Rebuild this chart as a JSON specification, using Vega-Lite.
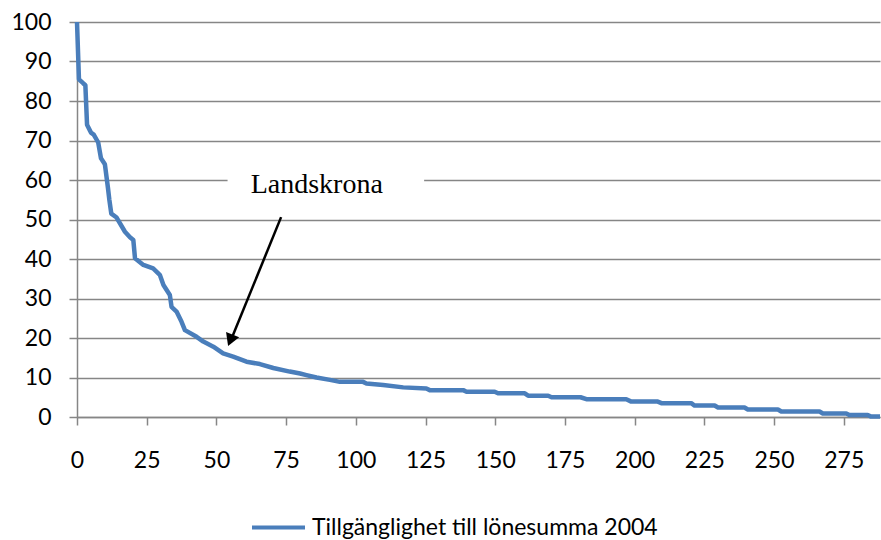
{
  "$schema": "https://vega.github.io/schema/vega-lite/v6.json",
  "autosize": "none",
  "width": 803,
  "height": 395,
  "padding": {"left": 77, "top": 22, "right": 1, "bottom": 123},
  "background": "white",
  "config": {
    "view": {"stroke": null},
    "axis": {
      "labelFont": "Lato",
      "labelFontSize": 23,
      "labelColor": "#000000",
      "labelOverlap": false,
      "domainColor": "#868686",
      "domainWidth": 1.5,
      "tickColor": "#868686",
      "tickWidth": 1.5,
      "tickSize": 8,
      "gridColor": "#868686",
      "gridWidth": 1.5,
      "gridOpacity": 1,
      "title": null
    }
  },
  "datasets": {
    "curve": [
      {"n": 0, "v": 100, "serie": "Tillgänglighet till lönesumma 2004"},
      {"n": 0.7, "v": 85.5, "serie": "Tillgänglighet till lönesumma 2004"},
      {"n": 2.2, "v": 84.5, "serie": "Tillgänglighet till lönesumma 2004"},
      {"n": 3, "v": 84, "serie": "Tillgänglighet till lönesumma 2004"},
      {"n": 3.6, "v": 74, "serie": "Tillgänglighet till lönesumma 2004"},
      {"n": 5, "v": 72, "serie": "Tillgänglighet till lönesumma 2004"},
      {"n": 6, "v": 71.5, "serie": "Tillgänglighet till lönesumma 2004"},
      {"n": 7.2, "v": 70, "serie": "Tillgänglighet till lönesumma 2004"},
      {"n": 7.6, "v": 69.5, "serie": "Tillgänglighet till lönesumma 2004"},
      {"n": 8.6, "v": 65.5, "serie": "Tillgänglighet till lönesumma 2004"},
      {"n": 10, "v": 64, "serie": "Tillgänglighet till lönesumma 2004"},
      {"n": 11.1, "v": 58, "serie": "Tillgänglighet till lönesumma 2004"},
      {"n": 11.6, "v": 55, "serie": "Tillgänglighet till lönesumma 2004"},
      {"n": 12.3, "v": 51.5, "serie": "Tillgänglighet till lönesumma 2004"},
      {"n": 14.2, "v": 50.5, "serie": "Tillgänglighet till lönesumma 2004"},
      {"n": 17.2, "v": 46.9, "serie": "Tillgänglighet till lönesumma 2004"},
      {"n": 19, "v": 45.5, "serie": "Tillgänglighet till lönesumma 2004"},
      {"n": 20.2, "v": 44.8, "serie": "Tillgänglighet till lönesumma 2004"},
      {"n": 20.8, "v": 40.2, "serie": "Tillgänglighet till lönesumma 2004"},
      {"n": 23.8, "v": 38.5, "serie": "Tillgänglighet till lönesumma 2004"},
      {"n": 27.3, "v": 37.6, "serie": "Tillgänglighet till lönesumma 2004"},
      {"n": 29.7, "v": 36, "serie": "Tillgänglighet till lönesumma 2004"},
      {"n": 31, "v": 33.4, "serie": "Tillgänglighet till lönesumma 2004"},
      {"n": 33.3, "v": 30.9, "serie": "Tillgänglighet till lönesumma 2004"},
      {"n": 33.9, "v": 27.9, "serie": "Tillgänglighet till lönesumma 2004"},
      {"n": 35.7, "v": 26.7, "serie": "Tillgänglighet till lönesumma 2004"},
      {"n": 37.5, "v": 24.1, "serie": "Tillgänglighet till lönesumma 2004"},
      {"n": 38.7, "v": 22, "serie": "Tillgänglighet till lönesumma 2004"},
      {"n": 42.9, "v": 20.3, "serie": "Tillgänglighet till lönesumma 2004"},
      {"n": 45.3, "v": 19.1, "serie": "Tillgänglighet till lönesumma 2004"},
      {"n": 48.9, "v": 17.8, "serie": "Tillgänglighet till lönesumma 2004"},
      {"n": 52.4, "v": 16.1, "serie": "Tillgänglighet till lönesumma 2004"},
      {"n": 56, "v": 15.3, "serie": "Tillgänglighet till lönesumma 2004"},
      {"n": 60.8, "v": 14, "serie": "Tillgänglighet till lönesumma 2004"},
      {"n": 65.6, "v": 13.4, "serie": "Tillgänglighet till lönesumma 2004"},
      {"n": 70.4, "v": 12.4, "serie": "Tillgänglighet till lönesumma 2004"},
      {"n": 76.3, "v": 11.5, "serie": "Tillgänglighet till lönesumma 2004"},
      {"n": 80, "v": 11.0, "serie": "Tillgänglighet till lönesumma 2004"},
      {"n": 82.3, "v": 10.6, "serie": "Tillgänglighet till lönesumma 2004"},
      {"n": 85.9, "v": 10.0, "serie": "Tillgänglighet till lönesumma 2004"},
      {"n": 90.7, "v": 9.4, "serie": "Tillgänglighet till lönesumma 2004"},
      {"n": 94.3, "v": 8.9, "serie": "Tillgänglighet till lönesumma 2004"},
      {"n": 102.6, "v": 8.9, "serie": "Tillgänglighet till lönesumma 2004"},
      {"n": 103.8, "v": 8.5, "serie": "Tillgänglighet till lönesumma 2004"},
      {"n": 109.8, "v": 8.1, "serie": "Tillgänglighet till lönesumma 2004"},
      {"n": 117, "v": 7.5, "serie": "Tillgänglighet till lönesumma 2004"},
      {"n": 125.3, "v": 7.2, "serie": "Tillgänglighet till lönesumma 2004"},
      {"n": 126.5, "v": 6.8, "serie": "Tillgänglighet till lönesumma 2004"},
      {"n": 138.5, "v": 6.8, "serie": "Tillgänglighet till lönesumma 2004"},
      {"n": 139.7, "v": 6.4, "serie": "Tillgänglighet till lönesumma 2004"},
      {"n": 149.8, "v": 6.4, "serie": "Tillgänglighet till lönesumma 2004"},
      {"n": 151, "v": 6.0, "serie": "Tillgänglighet till lönesumma 2004"},
      {"n": 160.6, "v": 6.0, "serie": "Tillgänglighet till lönesumma 2004"},
      {"n": 161.8, "v": 5.4, "serie": "Tillgänglighet till lönesumma 2004"},
      {"n": 169, "v": 5.4, "serie": "Tillgänglighet till lönesumma 2004"},
      {"n": 170.2, "v": 5.0, "serie": "Tillgänglighet till lönesumma 2004"},
      {"n": 180.6, "v": 5.0, "serie": "Tillgänglighet till lönesumma 2004"},
      {"n": 182.7, "v": 4.5, "serie": "Tillgänglighet till lönesumma 2004"},
      {"n": 197, "v": 4.5, "serie": "Tillgänglighet till lönesumma 2004"},
      {"n": 198.8, "v": 3.9, "serie": "Tillgänglighet till lönesumma 2004"},
      {"n": 208.3, "v": 3.9, "serie": "Tillgänglighet till lönesumma 2004"},
      {"n": 209.6, "v": 3.5, "serie": "Tillgänglighet till lönesumma 2004"},
      {"n": 220.3, "v": 3.5, "serie": "Tillgänglighet till lönesumma 2004"},
      {"n": 221.5, "v": 2.9, "serie": "Tillgänglighet till lönesumma 2004"},
      {"n": 228.7, "v": 2.9, "serie": "Tillgänglighet till lönesumma 2004"},
      {"n": 229.9, "v": 2.4, "serie": "Tillgänglighet till lönesumma 2004"},
      {"n": 239.4, "v": 2.4, "serie": "Tillgänglighet till lönesumma 2004"},
      {"n": 240.6, "v": 1.9, "serie": "Tillgänglighet till lönesumma 2004"},
      {"n": 251.4, "v": 1.9, "serie": "Tillgänglighet till lönesumma 2004"},
      {"n": 252.6, "v": 1.4, "serie": "Tillgänglighet till lönesumma 2004"},
      {"n": 266.3, "v": 1.4, "serie": "Tillgänglighet till lönesumma 2004"},
      {"n": 267.5, "v": 0.9, "serie": "Tillgänglighet till lönesumma 2004"},
      {"n": 275.9, "v": 0.9, "serie": "Tillgänglighet till lönesumma 2004"},
      {"n": 277, "v": 0.5, "serie": "Tillgänglighet till lönesumma 2004"},
      {"n": 283.6, "v": 0.5, "serie": "Tillgänglighet till lönesumma 2004"},
      {"n": 284.8, "v": 0.1, "serie": "Tillgänglighet till lönesumma 2004"},
      {"n": 288, "v": 0.1, "serie": "Tillgänglighet till lönesumma 2004"}
    ],
    "labelbox": [
      {"n": 54, "v": 57.5, "n2": 124.5, "v2": 62.5}
    ],
    "label": [
      {"n": 86, "v": 56.6, "text": "Landskrona"}
    ],
    "arrow": [
      {"n": 73.2, "v": 50.6, "n2": 55.3, "v2": 19.6}
    ],
    "head": [
      {"n": 55.0, "v": 19.4}
    ]
  },
  "encoding": {
    "x": {
      "field": "n",
      "type": "quantitative",
      "scale": {"domain": [0, 288], "nice": false, "zero": false},
      "axis": {
        "values": [0, 25, 50, 75, 100, 125, 150, 175, 200, 225, 250, 275],
        "tickCount": 30,
        "grid": false,
        "labelPadding": 24,
        "labelOverlap": false,
        "labelFlush": false
      }
    },
    "y": {
      "field": "v",
      "type": "quantitative",
      "scale": {"domain": [0, 100], "nice": false},
      "axis": {
        "values": [0, 10, 20, 30, 40, 50, 60, 70, 80, 90, 100],
        "tickCount": 20,
        "grid": true,
        "labelOverlap": false,
        "labelPadding": 18
      }
    }
  },
  "layer": [
    {
      "data": {"name": "curve"},
      "mark": {"type": "line", "strokeWidth": 4.5, "strokeJoin": "round", "strokeCap": "butt", "clip": false},
      "encoding": {
        "color": {
          "field": "serie",
          "type": "nominal",
          "scale": {"range": ["#4A7EBB"]},
          "legend": {
            "orient": "none",
            "legendX": 173,
            "legendY": 477,
            "title": null,
            "symbolType": "stroke",
            "symbolSize": 2809,
            "symbolStrokeWidth": 4,
            "labelFont": "Lato",
            "labelFontSize": 23,
            "labelLimit": 600,
            "labelColor": "#000000",
            "labelOffset": 5
          }
        }
      }
    },
    {
      "data": {"name": "labelbox"},
      "mark": {"type": "rect", "fill": "white"},
      "encoding": {
        "x2": {"field": "n2"},
        "y2": {"field": "v2"}
      }
    },
    {
      "data": {"name": "label"},
      "mark": {"type": "text", "font": "Liberation Serif", "fontSize": 28, "color": "#000000", "align": "center", "baseline": "alphabetic"},
      "encoding": {
        "text": {"field": "text"}
      }
    },
    {
      "data": {"name": "arrow"},
      "mark": {"type": "rule", "color": "#000000", "strokeWidth": 2.5},
      "encoding": {
        "x2": {"field": "n2"},
        "y2": {"field": "v2"}
      }
    },
    {
      "data": {"name": "head"},
      "mark": {"type": "point", "shape": "triangle-up", "filled": true, "color": "#000000", "opacity": 1, "size": 200, "angle": 201.8},
      "encoding": {}
    }
  ]
}
